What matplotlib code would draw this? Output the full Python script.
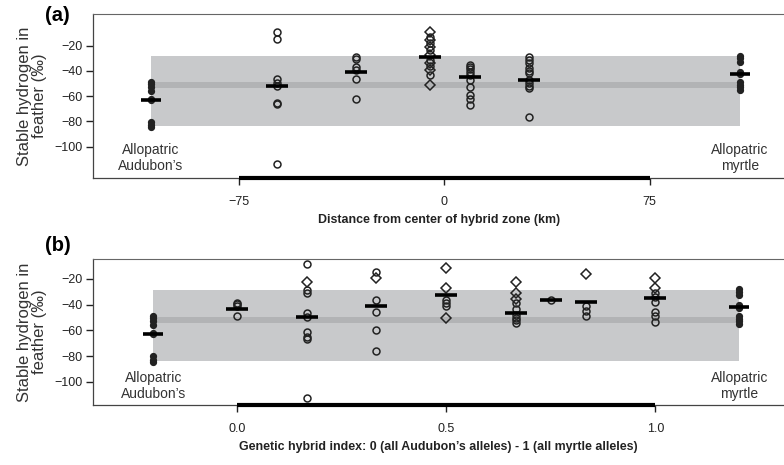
import numpy as np
import matplotlib.pyplot as plt

plt.rcParams['font.family'] = ['Liberation Sans', 'DejaVu Sans']

# Allopatric reference birds (same in both panels)
aud_vals = [-48.5, -50.4, -53, -55.7, -62, -63, -80.2, -82.8, -84.7]
myr_vals = [-28.2, -30, -32.7, -40.6, -42.5, -48.6, -51.2, -53, -55.2]

# (a) sites by distance from hybrid zone centre (km)
a_aud_x, a_myr_x = -107, 108
a_aud_mean, a_myr_mean = -63, -42.5
a_sites = [-61, -32, -5, 9.4, 30.8]
a_circles = [
    [-8.9, -14.9, -46.7, -49.4, -51.7, -65.2, -66.3, -114.1],
    [-29.2, -30.8, -36.7, -39.3, -46.4, -62.1],
    [-12.9, -18.1, -23.4, -31.3, -36.6, -43.3],
    [-35.3, -36.7, -38.7, -40.6, -43.3, -47.2, -53, -59.1, -62.5, -67.1],
    [-29.2, -31.3, -34, -37.9, -39.8, -41.9, -47.2, -49.4, -52, -53.8, -76.8],
]
a_diamonds = [
    [],
    [],
    [-9.4, -15.5, -20.8, -27.9, -33.9, -39.3, -51.2],
    [],
    [],
]
a_means = [-52, -40.9, -28.7, -45.1, -47.2]

# (b) groups by genetic hybrid index
b_aud_x, b_myr_x = -0.2, 1.2
b_aud_mean, b_myr_mean = -63, -42
b_sites = [0.0, 1/6, 1/3, 0.5, 2/3, 0.75, 5/6, 1.0]
b_circles = [
    [-38.4, -39.5, -41, -48.7],
    [-8.6, -28.5, -30.6, -46.2, -49.8, -60.9, -64.8, -66.6, -112.6],
    [-14.8, -36.3, -45.4, -59.6, -75.7],
    [-36.3, -38.4, -41],
    [-38.4, -43.3, -48, -50.5, -52, -54.4],
    [-36.3],
    [-41, -44.9, -48.7],
    [-30.6, -33.7, -37.6, -45.4, -48.7, -53.2],
]
b_diamonds = [
    [],
    [-22.1],
    [-19],
    [-11.2, -27.2, -50.5],
    [-22.6, -31.1, -35.8],
    [],
    [-16.1],
    [-19.5, -27.2],
]
b_means = [-43.3, -49.8, -41, -32.4, -46.6, -36.3, -38.1, -35]

# allopatric range bands
band_outer = (-84, -28.5)
band_inner = (-54, -49.2)

fig = plt.figure(figsize=(7.84, 4.65), dpi=100)
ax_a = fig.add_axes([0.119, 0.617, 0.881, 0.353])
ax_b = fig.add_axes([0.119, 0.129, 0.881, 0.314])


def draw_panel(ax, aud_x, myr_x, aud_mean, myr_mean, sites, circles, diamonds, means,
               xlim, ylim, xticks, xticklabels, xlabel, tag, tag_y, txt_y):
    ax.fill_between([aud_x, myr_x], band_outer[0], band_outer[1], color='#c8c9cb', lw=0, zorder=0)
    ax.fill_between([aud_x, myr_x], band_inner[0], band_inner[1], color='#b2b3b5', lw=0, zorder=0)

    ax.plot([aud_x] * len(aud_vals), aud_vals, 'o', color='#222222', ms=4.2, zorder=3)
    ax.plot([myr_x] * len(myr_vals), myr_vals, 'o', color='#222222', ms=4.2, zorder=3)
    ax.plot([aud_x, myr_x], [aud_mean, myr_mean], '_', color='black', ms=14, mew=2.6, zorder=4)

    for x, c, d in zip(sites, circles, diamonds):
        ax.plot([x] * len(c), c, 'o', mfc='none', mec='#222222', ms=5, mew=1.1, zorder=3)
        if d:
            ax.plot([x] * len(d), d, 'D', mfc='none', mec='#222222', ms=5, mew=1.1, zorder=3)
    ax.plot(sites, means, '_', color='black', ms=16, mew=2.6, zorder=4)

    ax.text(aud_x, txt_y, 'Allopatric\nAudubon’s', ha='center', va='center',
            fontsize=10, color='#333333', linespacing=1.15)
    ax.text(myr_x, txt_y, 'Allopatric\nmyrtle', ha='center', va='center',
            fontsize=10, color='#333333', linespacing=1.15)

    ax.set_xlim(*xlim)
    ax.set_ylim(*ylim)
    ax.set_yticks([-20, -40, -60, -80, -100])
    ax.set_yticklabels(['\u221220', '\u221240', '\u221260', '\u221280', '\u2212100'])
    ax.set_xticks(xticks)
    ax.set_xticklabels(xticklabels)
    ax.tick_params(labelsize=9, length=5, width=1, colors='#222222', pad=3)
    ax.tick_params(axis='x', pad=8)

    ax.spines['right'].set_visible(False)
    ax.spines['top'].set_color('#666666')
    ax.spines['bottom'].set_color('#444444')
    ax.spines['bottom'].set_linewidth(0.9)
    ax.spines['left'].set_color('#444444')
    ax.spines['left'].set_linewidth(0.9)
    # thick range bar on the bottom spine between first and last tick
    ax.plot([xticks[0], xticks[-1]], [ylim[0], ylim[0]], color='black', lw=3,
            solid_capstyle='butt', clip_on=False, zorder=5)

    ax.set_ylabel('Stable hydrogen in\nfeather (‰)', fontsize=12, color='#333333',
                  labelpad=5, linespacing=1.0)
    ax.set_xlabel(xlabel, fontsize=8.9, fontweight='bold', color='#222222', labelpad=4)
    ax.text(-0.07, tag_y, tag, transform=ax.transAxes, fontsize=14.5, fontweight='bold',
            ha='left', va='center')


draw_panel(ax_a, a_aud_x, a_myr_x, a_aud_mean, a_myr_mean, a_sites, a_circles, a_diamonds,
           a_means, (-128, 124), (-125, 5), [-75, 0, 75], ['\u221275', '0', '75'],
           'Distance from center of hybrid zone (km)', '(a)', 0.99, -109)
draw_panel(ax_b, b_aud_x, b_myr_x, b_aud_mean, b_myr_mean, b_sites, b_circles, b_diamonds,
           b_means, (-0.343, 1.307), (-118, -4.5), [0.0, 0.5, 1.0], ['0.0', '0.5', '1.0'],
           'Genetic hybrid index: 0 (all Audubon’s alleles) - 1 (all myrtle alleles)', '(b)', 1.09, -103)

fig.savefig('out.png', dpi=100)
